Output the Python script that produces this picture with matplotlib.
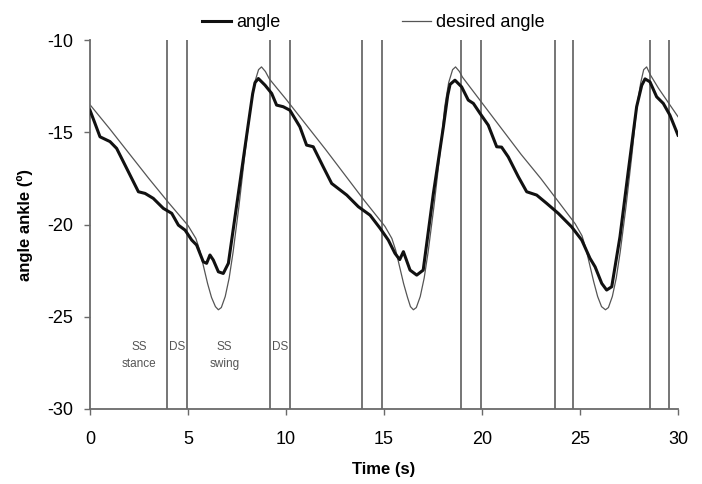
import matplotlib.pyplot as plt
from matplotlib.lines import Line2D

plt.rcParams['font.family'] = ['Liberation Sans', 'DejaVu Sans']
plt.rcParams['axes.unicode_minus'] = False

# measured ankle angle (thick black)
t_angle = [0.0, 0.25, 0.51, 1.02, 1.36, 1.79, 2.47, 2.81, 3.23, 3.74, 4.17, 4.51, 4.85,
           5.19, 5.44, 5.78, 5.95, 6.12, 6.29, 6.55, 6.8, 7.06, 7.57, 8.08, 8.3, 8.42,
           8.59, 8.93, 9.27, 9.52, 9.86, 10.2, 10.71, 11.05, 11.39, 11.9, 12.33,
           13.1, 13.69, 14.29, 14.8, 15.22, 15.56, 15.8, 15.99, 16.33, 16.67,
           17.0, 17.52, 18.03, 18.25, 18.37, 18.62, 18.96, 19.3, 19.56, 19.9, 20.32,
           20.75, 21.0, 21.34, 21.85, 22.28, 22.79, 23.3, 23.89, 24.57, 25.09,
           25.51, 25.77, 26.11, 26.36, 26.62, 27.04, 27.47, 27.89, 28.15, 28.32,
           28.57, 28.91, 29.25, 29.59, 30.0]
angle = [-13.8, -14.5, -15.24, -15.5, -15.87, -16.78, -18.22, -18.31, -18.58, -19.12,
         -19.39, -20.03, -20.3, -20.84, -21.11, -22.02, -22.1, -21.65, -21.92,
         -22.56, -22.65, -22.1, -18.31, -14.52, -12.9, -12.3, -12.08, -12.44, -12.89,
         -13.52, -13.61, -13.8, -14.7, -15.69, -15.78, -16.87, -17.77, -18.4,
         -19.03, -19.49, -20.2, -20.84, -21.56, -21.9, -21.47, -22.47, -22.74,
         -22.47, -18.31, -14.7, -13.0, -12.4, -12.17, -12.53, -13.25, -13.43, -13.97,
         -14.61, -15.78, -15.8, -16.33, -17.4, -18.22, -18.4, -18.85, -19.39,
         -20.12, -20.84, -21.83, -22.29, -23.19, -23.55, -23.37, -20.66, -17.05,
         -13.61, -12.45, -12.1, -12.26, -13.07, -13.43, -14.07, -15.15]

# desired angle (thin line)
t_desired = [0.0, 1.0, 2.0, 3.0, 4.0, 5.0, 5.4, 5.6, 5.8, 6.0, 6.2, 6.4, 6.55,
             6.7, 6.9, 7.1, 7.3, 7.6, 7.9, 8.2, 8.4, 8.6, 8.75, 8.95, 9.15,
             10.0, 11.0, 12.0, 13.0, 14.0, 15.05, 15.4, 15.6, 15.8, 16.0, 16.2,
             16.35, 16.5, 16.65, 16.85, 17.05, 17.25, 17.55, 17.85, 18.1, 18.3,
             18.5, 18.65, 18.85, 19.0, 20.0, 21.0, 22.0, 23.0, 24.0, 24.75, 25.1,
             25.3, 25.5, 25.7, 25.9, 26.1, 26.3, 26.45, 26.65, 26.85, 27.05,
             27.35, 27.65, 27.9, 28.1, 28.25, 28.4, 28.6, 29.0, 30.0]
desired = [-13.5, -14.8, -16.15, -17.5, -18.8, -20.05, -20.75, -21.4, -22.3,
           -23.2, -23.95, -24.45, -24.62, -24.5, -23.9, -22.9, -21.5, -19.0,
           -16.2, -13.6, -12.3, -11.6, -11.45, -11.7, -12.1, -13.2, -14.55,
           -15.9, -17.3, -18.7, -20.1, -20.75, -21.4, -22.3, -23.2, -23.95,
           -24.45, -24.62, -24.5, -23.9, -22.9, -21.5, -19.0, -16.2, -13.6,
           -12.3, -11.6, -11.45, -11.7, -12.0, -13.4, -14.8, -16.2, -17.5,
           -18.9, -19.95, -20.6, -21.3, -22.2, -23.1, -23.9, -24.45, -24.62,
           -24.5, -23.9, -22.9, -21.5, -19.0, -16.2, -13.6, -12.3, -11.6,
           -11.45, -11.9, -12.6, -14.15]

# gait phase boundaries
phase_lines = [3.95, 4.95, 9.2, 10.2, 13.9, 14.9, 18.95, 19.95, 23.75, 24.65,
               28.55, 29.55]

phase_labels = ['SS\nstance', 'DS', 'SS\nswing', 'DS']
phase_label_x = [2.5, 4.45, 6.85, 9.7]

fig = plt.figure(figsize=(7.02, 4.84), dpi=100)
ax = fig.add_axes([0.1282, 0.155, 0.8376, 0.762])

for xv in phase_lines:
    ax.axvline(xv, color='#6a6a6a', lw=1.3, zorder=1)

ax.plot(t_desired, desired, color='#555555', lw=0.9, zorder=2)
ax.plot(t_angle, angle, color='#111111', lw=2.2, zorder=3, solid_joinstyle='round')

for lbl, xv in zip(phase_labels, phase_label_x):
    ax.text(xv, -26.3, lbl, ha='center', va='top', fontsize=8.5,
            color='#555555', linespacing=1.55)

ax.set_xlim(0, 30)
ax.set_ylim(-30, -10)
ax.set_xticks([0, 5, 10, 15, 20, 25, 30])
ax.set_yticks([-30, -25, -20, -15, -10])
ax.tick_params(labelsize=13, length=4, width=1, color='#6a6a6a', direction='out')
ax.tick_params(axis='x', pad=12)
ax.tick_params(axis='y', pad=8)
for s in ['top', 'right']:
    ax.spines[s].set_visible(False)
for s in ['left', 'bottom']:
    ax.spines[s].set_color('#6a6a6a')
    ax.spines[s].set_linewidth(1.3)

ax.set_xlabel('Time (s)', fontsize=12, fontweight='bold', labelpad=10)
ax.set_ylabel('angle ankle (º)', fontsize=12, fontweight='bold', labelpad=10)

handles = [Line2D([], [], color='#111111', lw=2.2),
           Line2D([], [], color='#555555', lw=0.9)]
ax.legend(handles, ['angle', 'desired angle'], loc='lower center',
          bbox_to_anchor=(0.482, 1.005), ncol=2, frameon=False, fontsize=13,
          handlelength=1.6, handletextpad=0.3, columnspacing=6.7,
          borderaxespad=0)

fig.savefig('out.png', dpi=100)
